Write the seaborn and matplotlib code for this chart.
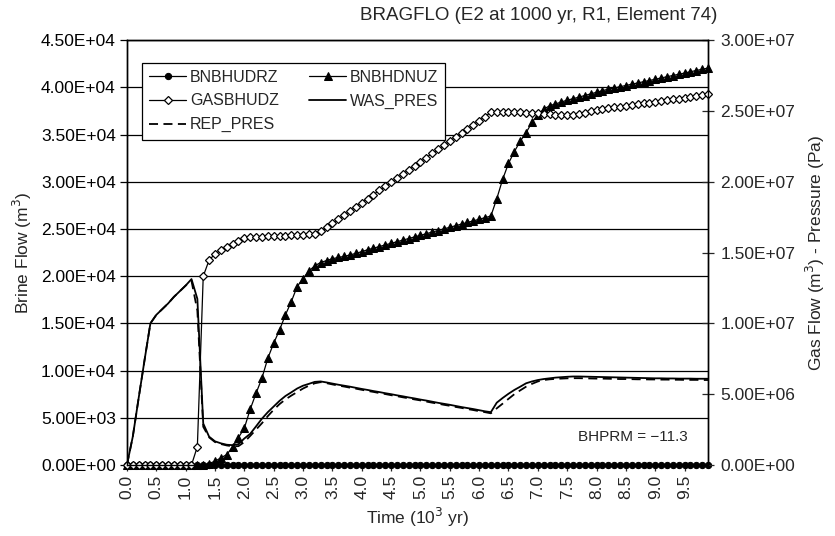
import numpy as np
import pandas as pd
import matplotlib
matplotlib.use("Agg")
import matplotlib.pyplot as plt
import seaborn as sns
from matplotlib.ticker import FuncFormatter, MultipleLocator

# time axis, 10^3 yr
time = np.round(np.arange(0, 10, 0.1), 1)

# Brine flow (m3), left axis
bnbhudrz = [
    0, 0, 0, 0, 0, 0, 0, 0, 0, 0,
    0, 0, 0, 0, 0, 0, 0, 0, 0, 0,
    0, 0, 0, 0, 0, 0, 0, 0, 0, 0,
    0, 0, 0, 0, 0, 0, 0, 0, 0, 0,
    0, 0, 0, 0, 0, 0, 0, 0, 0, 0,
    0, 0, 0, 0, 0, 0, 0, 0, 0, 0,
    0, 0, 0, 0, 0, 0, 0, 0, 0, 0,
    0, 0, 0, 0, 0, 0, 0, 0, 0, 0,
    0, 0, 0, 0, 0, 0, 0, 0, 0, 0,
    0, 0, 0, 0, 0, 0, 0, 0, 0, 0,
]
bnbhdnuz = [
    0, 0, 0, 0, 0, 0, 0, 0, 0, 0,
    0, 0, 0, 0, 150, 400, 750, 1100, 1900, 2900,
    3900, 5900, 7600, 9200, 11300, 12900, 14300, 15900, 17300, 18900,
    19750, 20550, 21100, 21450, 21650, 21850, 21980, 22100, 22250, 22420,
    22600, 22800, 22970, 23140, 23310, 23480, 23650, 23820, 23990, 24160,
    24330, 24500, 24670, 24840, 25010, 25180, 25350, 25520, 25690, 25860,
    26030, 26200, 26370, 28200, 30250, 31950, 33200, 34300, 35200, 36300,
    37100, 37700, 38050, 38250, 38450, 38650, 38800, 38970, 39140, 39310,
    39480, 39650, 39810, 39940, 40070, 40200, 40340, 40470, 40600, 40730,
    40860, 41000, 41130, 41260, 41390, 41520, 41660, 41790, 41920, 42050,
]

# Gas flow (10^6 m3) and pressures (MPa), right axis
gasbhudz = [
    0, 0, 0, 0, 0, 0, 0, 0, 0, 0,
    0, 0, 1.30, 13.33, 14.47, 14.90, 15.17, 15.40, 15.60, 15.80,
    16.00, 16.07, 16.10, 16.13, 16.15, 16.17, 16.18, 16.20, 16.21, 16.23,
    16.25, 16.28, 16.33, 16.53, 16.78, 17.07, 17.36, 17.65, 17.94, 18.23,
    18.52, 18.81, 19.10, 19.39, 19.68, 19.97, 20.26, 20.55, 20.84, 21.13,
    21.42, 21.71, 22.00, 22.29, 22.58, 22.87, 23.16, 23.45, 23.74, 24.03,
    24.32, 24.61, 24.90, 24.90, 24.90, 24.90, 24.90, 24.90, 24.89, 24.87,
    24.83, 24.80, 24.77, 24.73, 24.72, 24.72, 24.73, 24.80, 24.89, 24.97,
    25.05, 25.13, 25.19, 25.25, 25.30, 25.36, 25.42, 25.48, 25.53, 25.59,
    25.65, 25.71, 25.77, 25.82, 25.88, 25.94, 26.00, 26.06, 26.11, 26.17,
]
was_pres = [
    0, 2.00, 4.73, 7.40, 10.00, 10.60, 11.00, 11.40, 11.87, 12.27,
    12.67, 13.13, 11.73, 2.93, 2.00, 1.67, 1.53, 1.43, 1.40, 1.47,
    1.87, 2.20, 2.73, 3.27, 3.73, 4.13, 4.53, 4.87, 5.13, 5.40,
    5.60, 5.73, 5.87, 5.90, 5.83, 5.75, 5.67, 5.60, 5.53, 5.45,
    5.37, 5.30, 5.22, 5.15, 5.07, 5.00, 4.92, 4.85, 4.77, 4.70,
    4.62, 4.55, 4.47, 4.39, 4.32, 4.25, 4.17, 4.09, 4.02, 3.95,
    3.87, 3.79, 3.73, 4.40, 4.73, 5.03, 5.30, 5.53, 5.77, 5.90,
    6.00, 6.07, 6.12, 6.17, 6.20, 6.23, 6.25, 6.25, 6.24, 6.23,
    6.22, 6.21, 6.20, 6.19, 6.18, 6.17, 6.16, 6.15, 6.14, 6.13,
    6.12, 6.12, 6.11, 6.11, 6.10, 6.10, 6.10, 6.09, 6.09, 6.09,
]
rep_pres = [
    0, 2.00, 4.73, 7.40, 10.00, 10.60, 11.00, 11.40, 11.87, 12.27,
    12.67, 13.00, 10.90, 2.70, 1.95, 1.62, 1.48, 1.38, 1.32, 1.33,
    1.62, 2.05, 2.50, 2.95, 3.45, 3.90, 4.30, 4.63, 4.90, 5.15,
    5.40, 5.60, 5.77, 5.85, 5.78, 5.69, 5.61, 5.54, 5.46, 5.39,
    5.31, 5.23, 5.16, 5.08, 5.01, 4.93, 4.86, 4.78, 4.71, 4.63,
    4.56, 4.48, 4.40, 4.33, 4.25, 4.18, 4.10, 4.03, 3.95, 3.88,
    3.80, 3.73, 3.65, 4.00, 4.33, 4.67, 5.00, 5.27, 5.53, 5.73,
    5.90, 6.00, 6.05, 6.08, 6.10, 6.12, 6.13, 6.13, 6.12, 6.11,
    6.10, 6.10, 6.09, 6.08, 6.07, 6.07, 6.06, 6.05, 6.05, 6.04,
    6.04, 6.03, 6.03, 6.02, 6.02, 6.01, 6.01, 6.01, 6.00, 6.00,
]

df = pd.DataFrame({
    "time": time,
    "BNBHUDRZ": bnbhudrz,
    "BNBHDNUZ": bnbhdnuz,
    "GASBHUDZ": np.array(gasbhudz) * 1e6,
    "WAS_PRES": np.array(was_pres) * 1e6,
    "REP_PRES": np.array(rep_pres) * 1e6,
})

sns.set_style("ticks")
plt.rcParams["font.family"] = ["Liberation Sans", "DejaVu Sans"]
plt.rcParams["font.size"] = 12.5

fig = plt.figure(figsize=(8.35, 5.36), dpi=100)
ax = fig.add_axes([0.152, 0.1325, 0.696, 0.7925])
ax2 = ax.twinx()

# brine flow, left axis
sns.lineplot(data=df, x="time", y="BNBHUDRZ", ax=ax, color="black", lw=0.9,
             marker="o", markersize=4.5, markeredgecolor="black",
             clip_on=False, legend=False)
sns.lineplot(data=df, x="time", y="BNBHDNUZ", ax=ax, color="black", lw=0.9,
             marker="^", markersize=5.5, markeredgecolor="black",
             clip_on=False, legend=False)

# gas flow and pressure, right axis
sns.lineplot(data=df, x="time", y="GASBHUDZ", ax=ax2, color="black", lw=0.9,
             marker="D", markersize=4, markerfacecolor="white",
             markeredgecolor="black", markeredgewidth=0.9,
             clip_on=False, legend=False)
sns.lineplot(data=df, x="time", y="WAS_PRES", ax=ax2, color="black", lw=1.3,
             legend=False)
sns.lineplot(data=df, x="time", y="REP_PRES", ax=ax2, color="black", lw=1.3,
             linestyle=(0, (5, 3)), legend=False)

ax.set_xlim(0, 9.9)
ax.set_ylim(0, 45000)
ax2.set_ylim(0, 3.0e7)

ax.yaxis.set_major_locator(MultipleLocator(5000))
ax2.yaxis.set_major_locator(MultipleLocator(5e6))
sci = FuncFormatter(lambda v, p: "{:.2E}".format(v))
ax.yaxis.set_major_formatter(sci)
ax2.yaxis.set_major_formatter(sci)

ax.xaxis.set_major_locator(MultipleLocator(0.5))
ax.xaxis.set_minor_locator(MultipleLocator(0.1))
ax.xaxis.set_major_formatter(FuncFormatter(lambda v, p: "{:.1f}".format(v)))
plt.setp(ax.get_xticklabels(), rotation=90)

ax.grid(axis="y", color="black", lw=0.9)
ax.set_axisbelow(True)

for a in (ax, ax2):
    for s in a.spines.values():
        s.set_color("black")
        s.set_linewidth(1.0)
ax.tick_params(axis="y", direction="out", length=5, width=0.9, colors="black", pad=3)
ax.tick_params(axis="x", which="major", direction="out", length=4, width=0.9, pad=3)
ax.tick_params(axis="x", which="minor", direction="out", length=2, width=0.7)
ax2.tick_params(axis="y", direction="inout", length=8, width=0.9, pad=5)

ax.set_xlabel("Time (10$^3$ yr)", fontsize=12.5, labelpad=5)
ax.set_ylabel("Brine Flow (m$^3$)", fontsize=12.5, labelpad=5)
ax2.set_ylabel("Gas Flow (m$^3$) - Pressure (Pa)", fontsize=12.5, labelpad=6)

fig.text(717 / 835, 1 - 15 / 536, "BRAGFLO (E2 at 1000 yr, R1, Element 74)",
         ha="right", va="center", fontsize=13.5)
ax.text(0.87, 0.066, "BHPRM = \u221211.3", transform=ax.transAxes,
        ha="center", va="center", fontsize=11)

handles = [ax.lines[0], ax2.lines[0], ax2.lines[2], ax.lines[1], ax2.lines[1]]
labels = ["BNBHUDRZ", "GASBHUDZ", "REP_PRES", "BNBHDNUZ", "WAS_PRES"]
leg = ax2.legend(handles, labels, ncol=2, loc="upper left",
                 bbox_to_anchor=(0.026, 0.9475), borderaxespad=0,
                 frameon=True, fancybox=False, edgecolor="black",
                 framealpha=1, fontsize=11.5, handlelength=2.3,
                 handletextpad=0.25, columnspacing=1.9, labelspacing=0.55,
                 borderpad=0.45)
leg.get_frame().set_linewidth(0.9)

fig.savefig("out.png", dpi=100)
